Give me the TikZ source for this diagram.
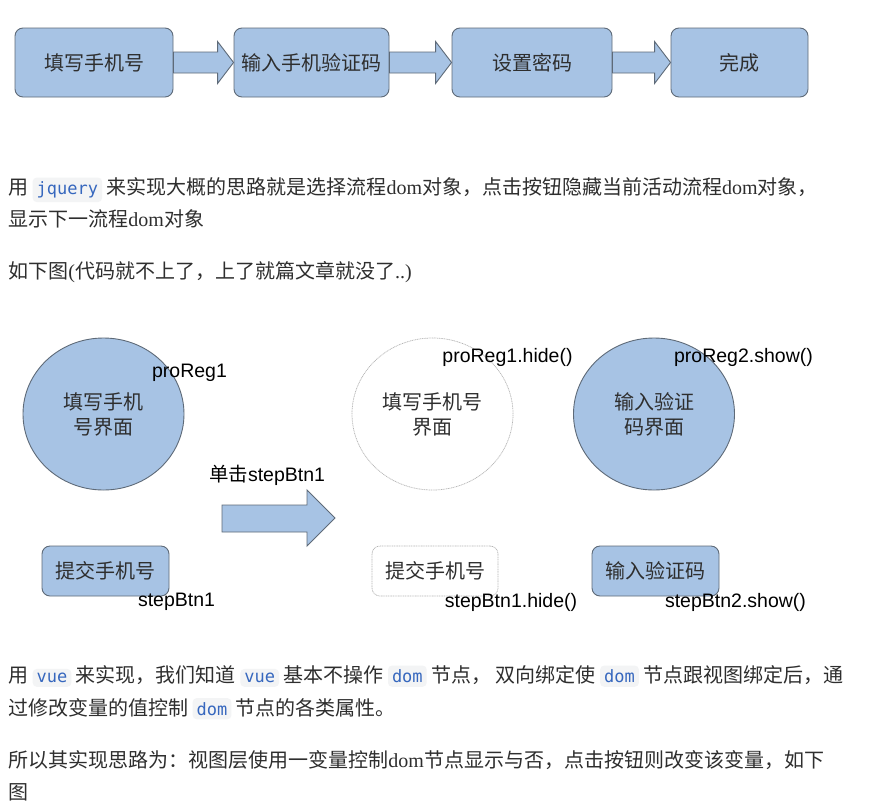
\documentclass[tikz,border=0pt]{standalone}
\usepackage{fontspec}
\setmainfont{Noto Sans CJK SC}
\newfontfamily\latinserif{Liberation Serif}
\newfontfamily\latinsans{Liberation Sans}
\newfontfamily\codemono{DejaVu Sans Mono}
\usetikzlibrary{calc, shapes.geometric}
\definecolor{bfill}{HTML}{A7C3E4}
\definecolor{bline}{HTML}{5E6A78}
\definecolor{ctext}{HTML}{2E2E2E}
\definecolor{chipbg}{HTML}{F3F4F5}
\definecolor{chiptext}{HTML}{3667BE}
\definecolor{hidegrey}{HTML}{B4B4B4}
\tikzset{
  every picture/.style={line width=0.9pt},
  flowbox/.style={draw=bline, fill=bfill, rounded corners=8pt, minimum height=69pt, inner sep=0pt, font=\fontsize{20}{24}\selectfont, text=ctext},
  flowarrow/.style={draw=bline, fill=bfill, to path={let \p1=(\tikztostart), \p2=(\tikztotarget) in (\x1,\y1+10.5pt) -- (\x2-16pt,\y1+10.5pt) -- (\x2-16pt,\y1+21pt) -- (\x2,\y1) -- (\x2-16pt,\y1-21pt) -- (\x2-16pt,\y1-10.5pt) -- (\x1,\y1-10.5pt) -- cycle}},
  view/.style={ellipse, draw=bline, fill=bfill, minimum width=161pt, minimum height=152pt, inner sep=0pt, align=center, font=\fontsize{20}{25}\selectfont, text=ctext},
  hidden/.style={draw=hidegrey, fill=white, dash pattern=on 1pt off 0.7pt, line width=0.7pt},
  btn/.style={draw=bline, fill=bfill, rounded corners=8pt, minimum width=127pt, minimum height=50pt, inner sep=0pt, font=\fontsize{20}{24}\selectfont, text=ctext},
  apicall/.style={font=\latinsans\fontsize{19.5}{23}\selectfont, inner sep=0pt, text=black},
  textline/.style={anchor=base west, inner sep=0pt, font=\fontsize{20}{32}\selectfont, text=ctext},
  codechip/.style={fill=chipbg, rounded corners=4pt, inner xsep=4pt, inner ysep=4pt, anchor=base, font=\codemono\fontsize{17}{19}\selectfont, text=chiptext},
}
\newcommand{\inlinecode}[1]{\tikz[baseline=(chip.base)]\node[codechip] (chip) {#1};}
\newcommand{\serifword}[1]{{\latinserif #1}}

\begin{document}
\begin{tikzpicture}[x=1pt, y=-1pt]
  \fill[white] (0,0) rectangle (883,809);
  \useasboundingbox (0,0) rectangle (883,809);

  % registration steps
  \node[flowbox, minimum width=158pt] (phone) at (94,62.5) {填写手机号};
  \node[flowbox, minimum width=155pt] (code) at (311.5,62.5) {输入手机验证码};
  \node[flowbox, minimum width=160pt] (pwd) at (532,62.5) {设置密码};
  \node[flowbox, minimum width=137pt] (done) at (739.5,62.5) {完成};
  \draw[flowarrow] (phone.east) to (code.west);
  \draw[flowarrow] (code.east) to (pwd.west);
  \draw[flowarrow] (pwd.east) to (done.west);

  \node[textline] (jq1) at (8,194.5) {用 \inlinecode{jquery} 来实现大概的思路就是选择流程\serifword{dom}对象，点击按钮隐藏当前活动流程\serifword{dom}对象，};
  \node[textline] (jq2) at (8,226.5) {显示下一流程\serifword{dom}对象};
  \node[textline] (note) at (8,278.5) {如下图\serifword{(}代码就不上了，上了就篇文章就没了\serifword{..)}};

  % jquery show / hide
  \node[view] (formview) at (103.5,414) {填写手机\\号界面};
  \node[view, hidden] (formhide) at (432.5,414) {填写手机号\\界面};
  \node[view] (codeview) at (654,414) {输入验证\\码界面};
  \draw[draw=bline, fill=bfill] (222,505) -- (307,505) -- (307,490) -- (335,518) -- (307,546) -- (307,532) -- (222,532) -- cycle;
  \node[apicall] (click) at (267,475) {{\normalfont 单击}stepBtn1};
  \node[btn] (submitbtn) at (105.5,571) {提交手机号};
  \node[btn, hidden, minimum width=126pt] (submithide) at (435,571) {提交手机号};
  \node[btn] (codebtn) at (655.5,571) {输入验证码};
  \node[apicall] (reg1) at (189.5,373) {proReg1};
  \node[apicall] (reg1hide) at (507.5,357) {proReg1.hide()};
  \node[apicall] (reg2show) at (743.5,357) {proReg2.show()};
  \node[apicall] (btn1) at (176.5,602) {stepBtn1};
  \node[apicall] (btn1hide) at (511,602) {stepBtn1.hide()};
  \node[apicall] (btn2show) at (735.5,602) {stepBtn2.show()};

  \node[textline] (vue1) at (8,682.5) {用 \inlinecode{vue} 来实现，我们知道 \inlinecode{vue} 基本不操作 \inlinecode{dom} 节点， 双向绑定使 \inlinecode{dom} 节点跟视图绑定后，通};
  \node[textline] (vue2) at (8,715) {过修改变量的值控制 \inlinecode{dom} 节点的各类属性。};
  \node[textline] (idea1) at (8,767.5) {所以其实现思路为：视图层使用一变量控制\serifword{dom}节点显示与否，点击按钮则改变该变量，如下};
  \node[textline] (idea2) at (8,799.5) {图};
\end{tikzpicture}
\end{document}
